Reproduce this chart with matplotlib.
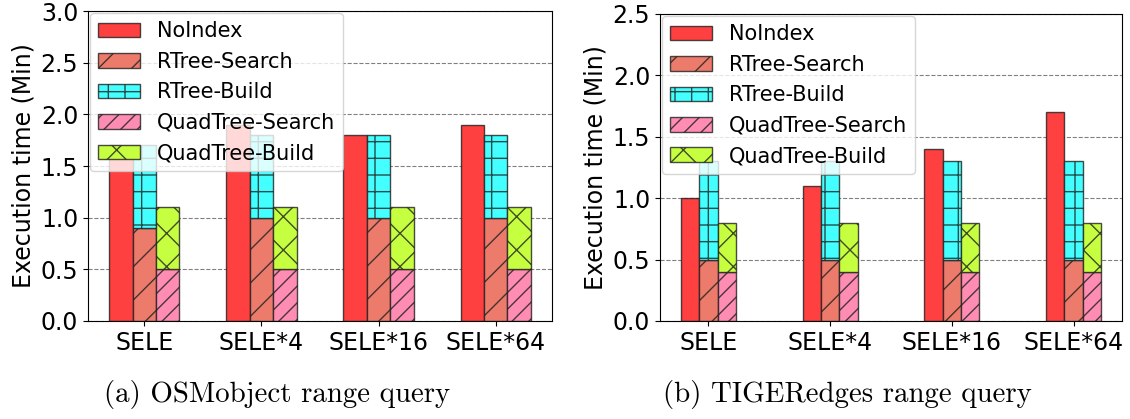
import numpy as np
import matplotlib.pyplot as plt

# query selectivity groups
groups = ['SELE', 'SELE*4', 'SELE*16', 'SELE*64']

# OSMobject range query (minutes)
osm_noindex = [1.7, 1.9, 1.8, 1.9]
osm_rtree_search = [0.9, 1.0, 1.0, 1.0]
osm_rtree_build = [0.8, 0.8, 0.8, 0.8]
osm_quad_search = [0.5, 0.5, 0.5, 0.5]
osm_quad_build = [0.6, 0.6, 0.6, 0.6]

# TIGERedges range query (minutes)
tiger_noindex = [1.0, 1.1, 1.4, 1.7]
tiger_rtree_search = [0.5, 0.5, 0.5, 0.5]
tiger_rtree_build = [0.8, 0.8, 0.8, 0.8]
tiger_quad_search = [0.4, 0.4, 0.4, 0.4]
tiger_quad_build = [0.4, 0.4, 0.4, 0.4]

c_noindex = '#ff4040'
c_rsearch = '#ec7b6b'
c_rbuild = '#44ffff'
c_qsearch = '#ff8cb2'
c_qbuild = '#c6ff40'
edge = (0.12, 0.12, 0.12, 0.8)


def draw(ax, noindex, rs, rb, qs, qb, w, ymax):
    x = np.arange(len(groups))
    ax.bar(x - w, noindex, w, color=c_noindex, edgecolor=edge, label='NoIndex')
    ax.bar(x, rs, w, color=c_rsearch, edgecolor=edge, hatch='/', label='RTree-Search')
    ax.bar(x, rb, w, bottom=rs, color=c_rbuild, edgecolor=edge, hatch='+', label='RTree-Build')
    ax.bar(x + w, qs, w, color=c_qsearch, edgecolor=edge, hatch='//', label='QuadTree-Search')
    ax.bar(x + w, qb, w, bottom=qs, color=c_qbuild, edgecolor=edge, hatch='x', label='QuadTree-Build')
    ax.set_xticks(x)
    ax.set_xticklabels(groups, fontsize=17)
    ax.set_ylim(0, ymax)
    ax.set_yticks(np.arange(0, ymax + 0.01, 0.5))
    ax.tick_params(axis='y', labelsize=17)
    ax.set_ylabel('Execution time (Min)', fontsize=17)
    ax.set_axisbelow(True)
    ax.yaxis.grid(True, linestyle='--', color='gray', linewidth=0.8)
    ax.legend(loc='upper left', fontsize=15, borderaxespad=0.1, framealpha=0.8,
              labelspacing=0.5)


fig = plt.figure(figsize=(11.3, 4.19), dpi=100)
ax1 = fig.add_axes([0.0779, 0.2339, 0.4106, 0.7398])
ax2 = fig.add_axes([0.5841, 0.2339, 0.4088, 0.7327])

draw(ax1, osm_noindex, osm_rtree_search, osm_rtree_build, osm_quad_search, osm_quad_build, 0.2, 3.0)
draw(ax2, tiger_noindex, tiger_rtree_search, tiger_rtree_build, tiger_quad_search, tiger_quad_build, 0.15, 2.5)

fig.text(0.2451, 0.04, '(a) OSMobject range query', fontfamily='cmr10', fontsize=20.8, ha='center')
fig.text(0.7496, 0.04, '(b) TIGERedges range query', fontfamily='cmr10', fontsize=20.8, ha='center')

fig.savefig('out.png', dpi=100)
